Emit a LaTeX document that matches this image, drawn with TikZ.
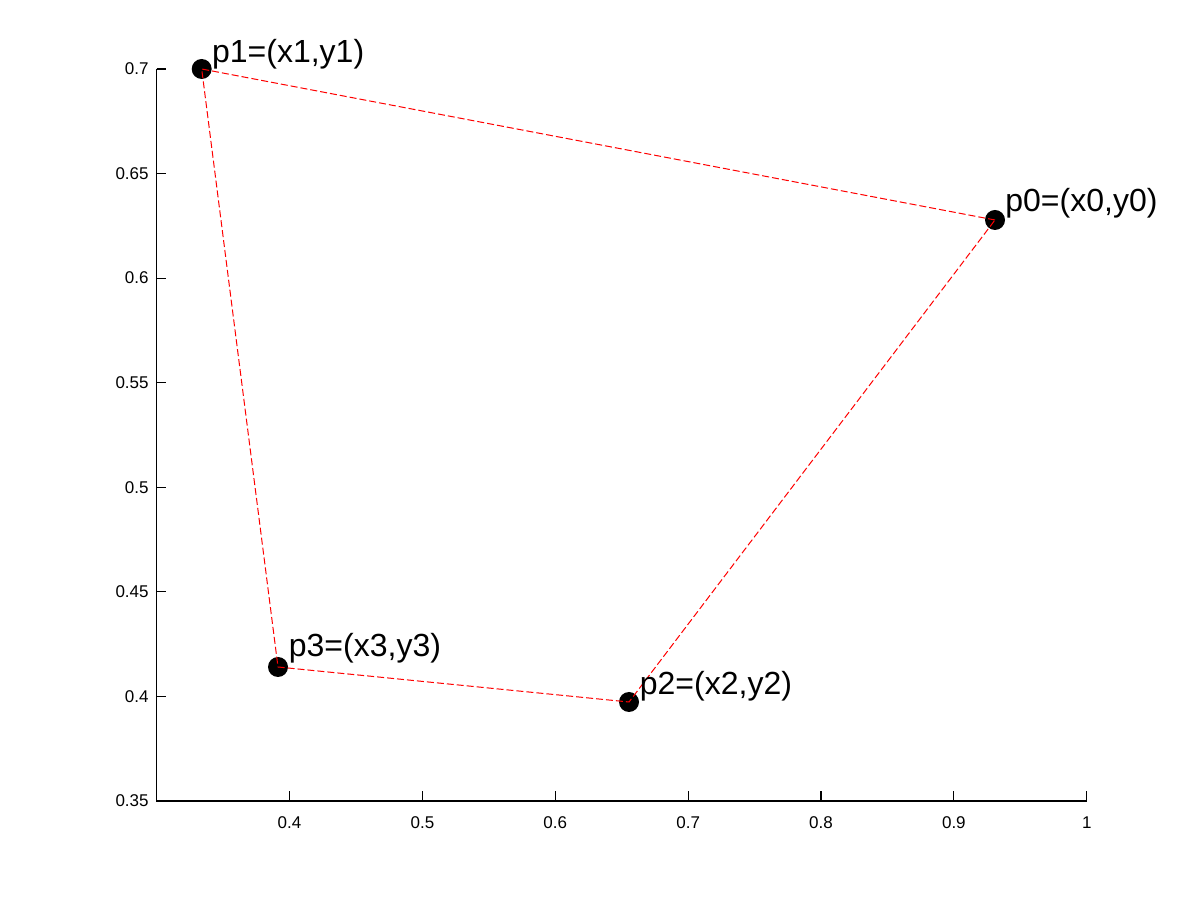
\documentclass[tikz,border=0pt]{standalone}
\usepackage{fontspec}
\setmainfont{Liberation Sans}
\begin{document}
\begin{tikzpicture}[x=0.5pt,y=0.5pt,
  dot/.style={circle,fill=black,inner sep=0pt,minimum size=10pt},
  ptlabel/.style={anchor=base west,inner sep=0pt,font=\fontsize{16}{18}\selectfont},
  polyline/.style={red,line width=0.5pt,dash pattern=on 3.5pt off 1.5pt},
  axisline/.style={black,line width=0.6pt},
  ticklab/.style={font=\fontsize{8.5}{10}\selectfont,inner sep=0pt}]
\useasboundingbox (0,0) rectangle (1200,900);
% axes
\coordinate (origin) at (156.7,99);
\coordinate (xend) at (1086.7,99);
\coordinate (yend) at (156.7,831);
\draw[axisline] (yend) -- (origin) -- (xend);
% y ticks
\foreach \k/\lab in {0/0.35,1/0.4,2/0.45,3/0.5,4/0.55,5/0.6,6/0.65,7/0.7}{
  \draw[axisline] (156.7,99+\k*104.57) -- ++(9,0);
  \node[ticklab,anchor=east] (yl\k) at (149,99+\k*104.57) {\lab};
}
% x ticks
\foreach \k/\lab in {1/0.4,2/0.5,3/0.6,4/0.7,5/0.8,6/0.9,7/1}{
  \draw[axisline] (156.7+\k*132.86,99) -- ++(0,10);
  \node[ticklab] (xl\k) at (156.7+\k*132.86,77) {\lab};
}
% points
\node[dot] (p0) at (995,680) {};
\node[dot] (p1) at (201.7,831) {};
\node[dot] (p2) at (629,198) {};
\node[dot] (p3) at (278,233) {};
% polygon
\draw[polyline] (p0.center) -- (p1.center) -- (p3.center) -- (p2.center) -- cycle;
% labels
\node[ptlabel] (l0) at (1005,688) {p0=(x0,y0)};
\node[ptlabel] (l1) at (211.7,837) {p1=(x1,y1)};
\node[ptlabel] (l2) at (639.5,205) {p2=(x2,y2)};
\node[ptlabel] (l3) at (288.5,243) {p3=(x3,y3)};
\end{tikzpicture}
\end{document}
